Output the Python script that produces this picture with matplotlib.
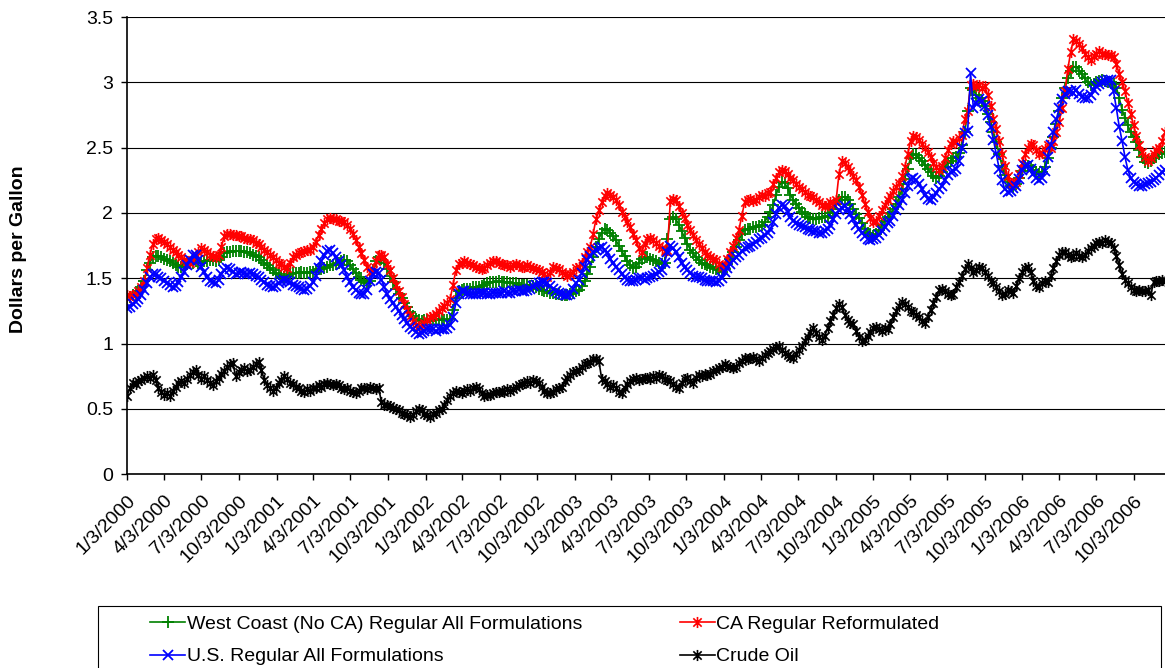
import numpy as np
import matplotlib
matplotlib.use('Agg')
import matplotlib.pyplot as plt
from matplotlib.path import Path
from matplotlib.patches import Rectangle

plt.rcParams['font.family'] = ['Liberation Sans', 'DejaVu Sans']

# weekly prices, dollars per gallon, first week 1/3/2000 (one row = 13 weeks)
west_coast = [
    1.36, 1.36, 1.37, 1.38, 1.40, 1.43, 1.48, 1.56, 1.62, 1.66, 1.67, 1.67, 1.66,
    1.65, 1.64, 1.63, 1.62, 1.60, 1.59, 1.59, 1.60, 1.61, 1.62, 1.62, 1.63, 1.62,
    1.62, 1.63, 1.63, 1.64, 1.64, 1.63, 1.64, 1.66, 1.69, 1.70, 1.70, 1.71, 1.71,
    1.71, 1.71, 1.70, 1.70, 1.69, 1.68, 1.67, 1.66, 1.64, 1.62, 1.60, 1.58, 1.56,
    1.54, 1.53, 1.52, 1.51, 1.52, 1.53, 1.54, 1.54, 1.54, 1.55, 1.54, 1.54, 1.55,
    1.55, 1.56, 1.57, 1.57, 1.58, 1.59, 1.60, 1.60, 1.61, 1.62, 1.63, 1.64, 1.63,
    1.60, 1.57, 1.54, 1.51, 1.49, 1.47, 1.46, 1.48, 1.56, 1.63, 1.66, 1.65, 1.62,
    1.57, 1.52, 1.47, 1.42, 1.38, 1.35, 1.31, 1.28, 1.24, 1.21, 1.19, 1.18, 1.17,
    1.18, 1.18, 1.17, 1.18, 1.18, 1.19, 1.18, 1.18, 1.18, 1.19, 1.26, 1.35, 1.40,
    1.41, 1.42, 1.42, 1.42, 1.43, 1.43, 1.43, 1.44, 1.45, 1.46, 1.47, 1.47, 1.47,
    1.48, 1.47, 1.47, 1.47, 1.46, 1.46, 1.46, 1.45, 1.45, 1.45, 1.45, 1.44, 1.44,
    1.43, 1.42, 1.41, 1.40, 1.40, 1.39, 1.39, 1.38, 1.38, 1.37, 1.37, 1.37, 1.38,
    1.39, 1.40, 1.41, 1.44, 1.48, 1.53, 1.59, 1.66, 1.74, 1.80, 1.85, 1.88, 1.87,
    1.85, 1.82, 1.79, 1.75, 1.71, 1.67, 1.63, 1.60, 1.58, 1.59, 1.62, 1.65, 1.66,
    1.66, 1.65, 1.64, 1.63, 1.62, 1.61, 1.62, 1.80, 1.95, 1.97, 1.95, 1.91, 1.86,
    1.81, 1.76, 1.72, 1.69, 1.66, 1.64, 1.62, 1.61, 1.60, 1.59, 1.58, 1.57, 1.56,
    1.55, 1.57, 1.61, 1.65, 1.70, 1.74, 1.79, 1.84, 1.87, 1.88, 1.88, 1.89, 1.89,
    1.90, 1.91, 1.93, 1.97, 2.01, 2.06, 2.14, 2.20, 2.24, 2.23, 2.19, 2.14, 2.10,
    2.07, 2.04, 2.01, 1.99, 1.97, 1.96, 1.95, 1.95, 1.96, 1.97, 1.97, 1.98, 2.00,
    2.03, 2.07, 2.10, 2.12, 2.12, 2.10, 2.07, 2.03, 1.99, 1.96, 1.92, 1.88, 1.85,
    1.83, 1.82, 1.84, 1.87, 1.91, 1.94, 1.97, 2.00, 2.03, 2.07, 2.12, 2.18, 2.26,
    2.34, 2.42, 2.45, 2.44, 2.42, 2.40, 2.37, 2.34, 2.31, 2.28, 2.27, 2.28, 2.31,
    2.35, 2.38, 2.40, 2.42, 2.43, 2.46, 2.52, 2.62, 2.78, 2.96, 2.94, 2.90, 2.88,
    2.86, 2.82, 2.76, 2.70, 2.62, 2.54, 2.45, 2.36, 2.29, 2.24, 2.21, 2.20, 2.22,
    2.27, 2.32, 2.36, 2.36, 2.35, 2.33, 2.31, 2.30, 2.31, 2.35, 2.42, 2.50, 2.58,
    2.68, 2.78, 2.88, 2.96, 3.03, 3.09, 3.12, 3.12, 3.09, 3.06, 3.03, 3.00, 2.98,
    2.99, 3.00, 3.01, 3.02, 3.01, 3.00, 3.00, 2.99, 2.96, 2.88, 2.79, 2.73, 2.67,
    2.62, 2.58, 2.54, 2.48, 2.43, 2.39, 2.38, 2.40, 2.42, 2.43, 2.45, 2.46, 2.47,
]

ca_reformulated = [
    1.37, 1.36, 1.37, 1.38, 1.40, 1.43, 1.48, 1.58, 1.68, 1.76, 1.80, 1.81, 1.79,
    1.78, 1.76, 1.74, 1.72, 1.70, 1.68, 1.66, 1.64, 1.63, 1.62, 1.64, 1.67, 1.70,
    1.73, 1.72, 1.70, 1.68, 1.67, 1.66, 1.68, 1.74, 1.82, 1.84, 1.84, 1.83, 1.83,
    1.82, 1.82, 1.81, 1.80, 1.80, 1.79, 1.77, 1.76, 1.74, 1.72, 1.70, 1.68, 1.66,
    1.64, 1.62, 1.61, 1.59, 1.58, 1.62, 1.66, 1.68, 1.69, 1.70, 1.71, 1.72, 1.72,
    1.74, 1.78, 1.83, 1.88, 1.92, 1.95, 1.96, 1.95, 1.95, 1.94, 1.94, 1.93, 1.91,
    1.88, 1.84, 1.79, 1.74, 1.69, 1.64, 1.59, 1.55, 1.56, 1.63, 1.68, 1.68, 1.66,
    1.61, 1.56, 1.50, 1.45, 1.40, 1.36, 1.30, 1.26, 1.21, 1.17, 1.14, 1.13, 1.14,
    1.16, 1.18, 1.20, 1.21, 1.23, 1.25, 1.27, 1.29, 1.31, 1.34, 1.45, 1.56, 1.61,
    1.62, 1.63, 1.62, 1.61, 1.60, 1.59, 1.58, 1.57, 1.58, 1.60, 1.62, 1.63, 1.63,
    1.62, 1.61, 1.60, 1.60, 1.59, 1.60, 1.61, 1.60, 1.59, 1.59, 1.60, 1.59, 1.58,
    1.57, 1.56, 1.55, 1.53, 1.51, 1.55, 1.59, 1.58, 1.57, 1.55, 1.53, 1.52, 1.53,
    1.55, 1.58, 1.59, 1.62, 1.66, 1.70, 1.74, 1.84, 1.95, 2.02, 2.08, 2.13, 2.15,
    2.14, 2.12, 2.10, 2.06, 2.01, 1.97, 1.93, 1.89, 1.84, 1.79, 1.73, 1.70, 1.76,
    1.80, 1.81, 1.79, 1.77, 1.75, 1.73, 1.71, 1.72, 2.09, 2.11, 2.10, 2.05, 2.00,
    1.96, 1.91, 1.87, 1.83, 1.79, 1.76, 1.73, 1.70, 1.68, 1.66, 1.65, 1.64, 1.61,
    1.59, 1.60, 1.65, 1.70, 1.75, 1.81, 1.87, 1.98, 2.08, 2.10, 2.11, 2.09, 2.10,
    2.12, 2.14, 2.13, 2.15, 2.16, 2.22, 2.27, 2.31, 2.33, 2.32, 2.30, 2.27, 2.25,
    2.22, 2.20, 2.18, 2.16, 2.14, 2.13, 2.12, 2.10, 2.08, 2.06, 2.05, 2.06, 2.08,
    2.07, 2.10, 2.30, 2.40, 2.38, 2.35, 2.32, 2.28, 2.25, 2.20, 2.14, 2.07, 2.01,
    1.96, 1.93, 1.94, 1.98, 2.02, 2.06, 2.10, 2.13, 2.17, 2.20, 2.23, 2.28, 2.35,
    2.45, 2.55, 2.59, 2.58, 2.56, 2.53, 2.50, 2.47, 2.43, 2.38, 2.35, 2.33, 2.36,
    2.42, 2.48, 2.53, 2.55, 2.54, 2.57, 2.60, 2.72, 2.78, 2.98, 2.99, 2.97, 2.98,
    2.96, 2.97, 2.90, 2.82, 2.72, 2.64, 2.55, 2.45, 2.36, 2.28, 2.23, 2.22, 2.24,
    2.30, 2.38, 2.45, 2.50, 2.53, 2.52, 2.48, 2.45, 2.46, 2.49, 2.52, 2.50, 2.55,
    2.62, 2.70, 2.80, 2.93, 3.10, 3.23, 3.33, 3.32, 3.29, 3.26, 3.22, 3.19, 3.17,
    3.20, 3.22, 3.24, 3.22, 3.22, 3.21, 3.21, 3.19, 3.14, 3.06, 3.00, 2.93, 2.84,
    2.76, 2.67, 2.59, 2.52, 2.47, 2.43, 2.40, 2.42, 2.45, 2.48, 2.50, 2.55, 2.62,
]

us_regular = [
    1.27, 1.28, 1.30, 1.32, 1.34, 1.37, 1.41, 1.46, 1.51, 1.53, 1.53, 1.51, 1.50,
    1.48, 1.46, 1.45, 1.43, 1.44, 1.47, 1.51, 1.55, 1.60, 1.64, 1.68, 1.68, 1.64,
    1.59, 1.55, 1.51, 1.48, 1.47, 1.46, 1.49, 1.53, 1.56, 1.58, 1.57, 1.55, 1.53,
    1.54, 1.55, 1.54, 1.53, 1.54, 1.53, 1.52, 1.51, 1.49, 1.47, 1.45, 1.44, 1.43,
    1.44, 1.46, 1.48, 1.49, 1.48, 1.47, 1.45, 1.44, 1.43, 1.42, 1.41, 1.42, 1.44,
    1.47, 1.52, 1.58, 1.63, 1.68, 1.71, 1.72, 1.69, 1.66, 1.63, 1.60, 1.56, 1.51,
    1.47, 1.43, 1.41, 1.39, 1.38, 1.38, 1.41, 1.48, 1.53, 1.55, 1.54, 1.49, 1.43,
    1.38, 1.34, 1.31, 1.28, 1.25, 1.22, 1.19, 1.16, 1.13, 1.11, 1.09, 1.07, 1.08,
    1.10, 1.11, 1.11, 1.11, 1.10, 1.11, 1.11, 1.11, 1.12, 1.14, 1.20, 1.31, 1.38,
    1.40, 1.40, 1.39, 1.38, 1.38, 1.38, 1.39, 1.39, 1.39, 1.38, 1.38, 1.39, 1.39,
    1.39, 1.39, 1.40, 1.39, 1.39, 1.40, 1.40, 1.41, 1.40, 1.40, 1.41, 1.42, 1.44,
    1.45, 1.46, 1.47, 1.47, 1.46, 1.44, 1.42, 1.40, 1.39, 1.38, 1.37, 1.37, 1.38,
    1.42, 1.46, 1.49, 1.54, 1.59, 1.64, 1.67, 1.70, 1.72, 1.73, 1.74, 1.72, 1.69,
    1.65, 1.62, 1.59, 1.56, 1.53, 1.51, 1.49, 1.48, 1.48, 1.49, 1.50, 1.50, 1.49,
    1.50, 1.51, 1.52, 1.53, 1.55, 1.56, 1.62, 1.70, 1.75, 1.73, 1.70, 1.66, 1.62,
    1.59, 1.56, 1.54, 1.52, 1.51, 1.51, 1.50, 1.49, 1.48, 1.48, 1.48, 1.47, 1.48,
    1.50, 1.55, 1.58, 1.61, 1.64, 1.66, 1.68, 1.71, 1.73, 1.74, 1.75, 1.76, 1.78,
    1.80, 1.81, 1.83, 1.85, 1.88, 1.93, 1.99, 2.04, 2.06, 2.05, 2.01, 1.97, 1.94,
    1.92, 1.91, 1.90, 1.89, 1.88, 1.87, 1.86, 1.86, 1.85, 1.85, 1.86, 1.88, 1.91,
    1.95, 1.99, 2.02, 2.04, 2.05, 2.03, 1.99, 1.95, 1.91, 1.88, 1.85, 1.82, 1.80,
    1.79, 1.80, 1.81, 1.83, 1.86, 1.89, 1.92, 1.94, 1.98, 2.02, 2.06, 2.10, 2.15,
    2.21, 2.26, 2.27, 2.25, 2.22, 2.18, 2.14, 2.11, 2.10, 2.12, 2.15, 2.18, 2.21,
    2.25, 2.29, 2.31, 2.32, 2.34, 2.40, 2.50, 2.61, 2.63, 3.07, 2.80, 2.84, 2.87,
    2.86, 2.82, 2.75, 2.66, 2.56, 2.45, 2.34, 2.25, 2.18, 2.16, 2.17, 2.19, 2.21,
    2.26, 2.33, 2.36, 2.37, 2.34, 2.30, 2.27, 2.25, 2.27, 2.32, 2.43, 2.52, 2.62,
    2.72, 2.80, 2.87, 2.91, 2.93, 2.93, 2.92, 2.94, 2.91, 2.89, 2.88, 2.88, 2.90,
    2.94, 2.97, 2.99, 3.00, 3.01, 3.02, 3.02, 2.93, 2.80, 2.66, 2.55, 2.43, 2.33,
    2.27, 2.24, 2.22, 2.21, 2.21, 2.22, 2.23, 2.24, 2.25, 2.27, 2.29, 2.31, 2.33,
]

crude_oil = [
    0.60, 0.66, 0.70, 0.69, 0.71, 0.72, 0.74, 0.75, 0.74, 0.76, 0.72, 0.66, 0.63,
    0.61, 0.62, 0.60, 0.64, 0.67, 0.70, 0.71, 0.70, 0.73, 0.76, 0.78, 0.80, 0.76,
    0.73, 0.75, 0.72, 0.70, 0.68, 0.71, 0.74, 0.77, 0.79, 0.82, 0.84, 0.85, 0.75,
    0.78, 0.80, 0.81, 0.79, 0.80, 0.82, 0.84, 0.86, 0.80, 0.72, 0.68, 0.66, 0.64,
    0.66, 0.70, 0.72, 0.75, 0.73, 0.70, 0.69, 0.67, 0.66, 0.64, 0.63, 0.65, 0.64,
    0.66, 0.66, 0.68, 0.67, 0.69, 0.70, 0.69, 0.68, 0.69, 0.68, 0.66, 0.65, 0.66,
    0.64, 0.63, 0.62, 0.64, 0.66, 0.66, 0.65, 0.67, 0.66, 0.65, 0.66, 0.55, 0.53,
    0.53, 0.52, 0.51, 0.50, 0.49, 0.47, 0.46, 0.45, 0.44, 0.45, 0.48, 0.50, 0.49,
    0.46, 0.45, 0.44, 0.46, 0.47, 0.49, 0.50, 0.53, 0.57, 0.60, 0.62, 0.64, 0.63,
    0.62, 0.64, 0.65, 0.64, 0.66, 0.67, 0.65, 0.62, 0.60, 0.61, 0.61, 0.62, 0.63,
    0.63, 0.64, 0.63, 0.65, 0.64, 0.65, 0.67, 0.68, 0.69, 0.70, 0.71, 0.70, 0.72,
    0.71, 0.70, 0.67, 0.64, 0.62, 0.62, 0.63, 0.65, 0.66, 0.67, 0.71, 0.74, 0.76,
    0.78, 0.79, 0.80, 0.82, 0.84, 0.85, 0.86, 0.88, 0.88, 0.87, 0.73, 0.71, 0.69,
    0.67, 0.68, 0.66, 0.63, 0.62, 0.66, 0.69, 0.71, 0.73, 0.74, 0.72, 0.73, 0.74,
    0.74, 0.73, 0.75, 0.74, 0.76, 0.75, 0.73, 0.72, 0.71, 0.69, 0.67, 0.66, 0.70,
    0.73, 0.74, 0.71, 0.70, 0.74, 0.76, 0.75, 0.77, 0.76, 0.77, 0.79, 0.80, 0.81,
    0.82, 0.84, 0.83, 0.82, 0.81, 0.82, 0.85, 0.87, 0.89, 0.88, 0.89, 0.90, 0.88,
    0.87, 0.89, 0.91, 0.93, 0.94, 0.96, 0.97, 0.98, 0.95, 0.93, 0.91, 0.90, 0.89,
    0.92, 0.95, 0.98, 1.02, 1.05, 1.09, 1.12, 1.08, 1.05, 1.03, 1.06, 1.12, 1.17,
    1.22, 1.27, 1.30, 1.28, 1.22, 1.18, 1.16, 1.15, 1.10, 1.05, 1.02, 1.03, 1.06,
    1.09, 1.12, 1.13, 1.11, 1.10, 1.12, 1.11, 1.15, 1.20, 1.25, 1.29, 1.32, 1.30,
    1.28, 1.25, 1.24, 1.22, 1.20, 1.17, 1.16, 1.20, 1.26, 1.31, 1.36, 1.41, 1.42,
    1.40, 1.38, 1.37, 1.38, 1.43, 1.47, 1.52, 1.57, 1.61, 1.58, 1.55, 1.56, 1.59,
    1.58, 1.55, 1.52, 1.48, 1.46, 1.43, 1.40, 1.37, 1.38, 1.41, 1.40, 1.39, 1.44,
    1.50, 1.55, 1.58, 1.59, 1.55, 1.48, 1.44, 1.43, 1.46, 1.48, 1.47, 1.52, 1.58,
    1.63, 1.68, 1.70, 1.70, 1.68, 1.66, 1.67, 1.69, 1.67, 1.66, 1.68, 1.71, 1.73,
    1.75, 1.77, 1.78, 1.77, 1.79, 1.78, 1.77, 1.73, 1.67, 1.60, 1.53, 1.49, 1.46,
    1.43, 1.41, 1.40, 1.41, 1.40, 1.40, 1.41, 1.37, 1.47, 1.48, 1.48, 1.49, 1.48,
]

series_names = ['West Coast (No CA) Regular All Formulations', 'CA Regular Reformulated',
                'U.S. Regular All Formulations', 'Crude Oil']

tick_years = list(range(2000, 2007))
tick_months = [1, 4, 7, 10]

W, H = 1165, 668
start = np.datetime64('2000-01-03')

def weeks(vals):
    return start + 7 * np.arange(len(vals))

# Excel style star marker: vertical bar plus an x
star = Path([(0, -1), (0, 1), (-0.75, -0.75), (0.75, 0.75), (-0.75, 0.75), (0.75, -0.75)],
            [Path.MOVETO, Path.LINETO, Path.MOVETO, Path.LINETO, Path.MOVETO, Path.LINETO])

fig = plt.figure(figsize=(W / 100, H / 100), dpi=100)
ax = fig.add_axes([127 / W, 1 - 474.2 / H, 1 - 127 / W, (474.2 - 17) / H])

l_wc, = ax.plot(weeks(west_coast), west_coast, color='#008000', lw=1.2, marker='+', ms=8, mew=1.3,
                label=series_names[0])
l_ca, = ax.plot(weeks(ca_reformulated), ca_reformulated, color='#ff0000', lw=1.2, marker=star,
                ms=8, mew=1.2, mfc='none', label=series_names[1])
l_us, = ax.plot(weeks(us_regular), us_regular, color='#0000ff', lw=1.2, marker='x', ms=6.5,
                mew=1.3, label=series_names[2])
l_cr, = ax.plot(weeks(crude_oil), crude_oil, color='black', lw=1.2, marker=star, ms=8, mew=1.2,
                mfc='none', label=series_names[3])

ax.set_ylim(0, 3.5)
ax.set_xlim(start, start + np.timedelta64(2541, 'D'))
yt = np.arange(0, 3.51, 0.5)
ax.set_yticks(yt)
ax.set_yticklabels(['%g' % v for v in yt])
ax.grid(axis='y', color='black', lw=0.8)
ax.set_axisbelow(True)

tdates = [np.datetime64('%d-%02d-03' % (y, m)) for y in tick_years for m in tick_months]
tlabels = ['%d/3/%d' % (m, y) for y in tick_years for m in tick_months]
ax.set_xticks(tdates)
ax.set_xticklabels(tlabels, rotation=45, ha='right', va='top', rotation_mode='anchor')
ax.tick_params(axis='both', direction='out', length=4, width=1, color='black',
               labelsize=14, pad=6)
ax.tick_params(axis='x', pad=9)

for s in ['top', 'right']:
    ax.spines[s].set_visible(False)
for s in ['left', 'bottom']:
    ax.spines[s].set_linewidth(1.2)

fig.text(19 / W, 1 - 249 / H, 'Dollars per Gallon', rotation=90, ha='center', va='center',
         fontsize=14, fontweight='bold')

# legend box (clipped at the bottom of the image)
fig.patches.append(Rectangle((98 / W, -0.05), 1063 / W, 0.05 + (1 - 606 / H),
                             transform=fig.transFigure, fill=False, ec='black', lw=0.8))
fig.legend([l_wc, l_us, l_ca, l_cr],
           [series_names[0], series_names[2], series_names[1], series_names[3]],
           ncol=2, loc='upper left', bbox_to_anchor=(150 / W, 1 - 615 / H), frameon=False,
           fontsize=14, numpoints=1, handlelength=1.8, handletextpad=0.1,
           columnspacing=5.0, labelspacing=0.78, borderpad=0, borderaxespad=0)

fig.savefig('out.png', dpi=100)
